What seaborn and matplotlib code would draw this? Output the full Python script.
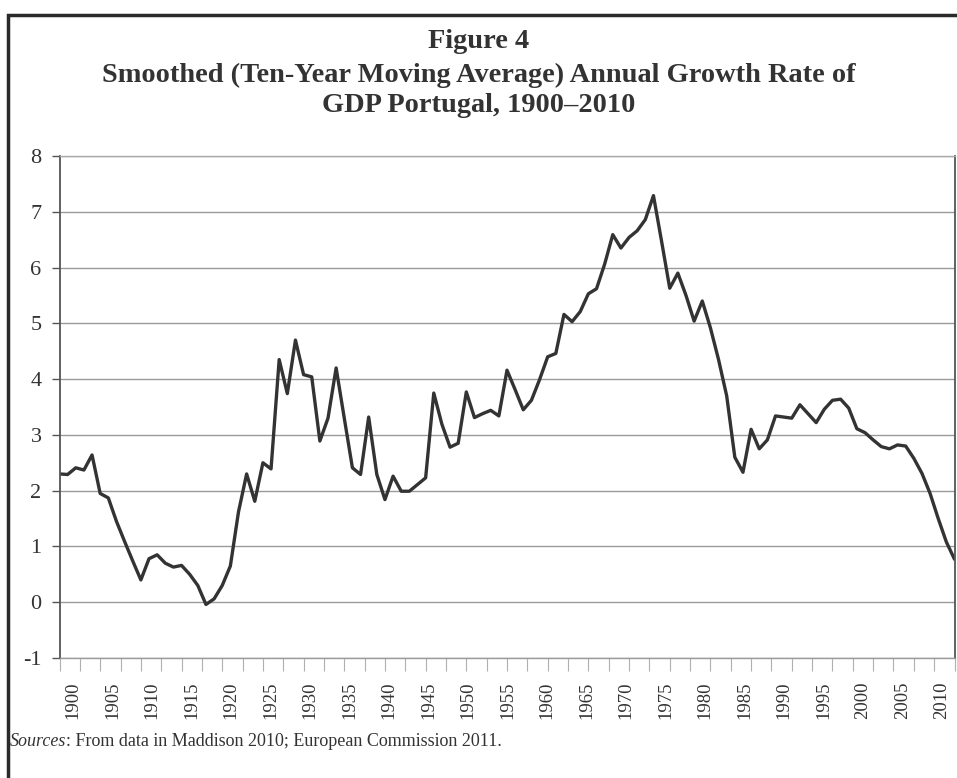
import matplotlib
matplotlib.use('Agg')
import matplotlib.pyplot as plt
import matplotlib.patches as mpatches
from matplotlib.ticker import MultipleLocator
from matplotlib.transforms import ScaledTranslation
import seaborn as sns
import pandas as pd

# Data
years = list(range(1900, 2011))
growth = [
    2.30, 2.29, 2.41, 2.37, 2.64, 1.95, 1.87, 1.45, 1.09, 0.74,   # 1900-1909
    0.40, 0.78, 0.85, 0.70, 0.63, 0.66, 0.50, 0.30, -0.04, 0.06,  # 1910-1919
    0.30, 0.65, 1.62, 2.30, 1.81, 2.50, 2.39, 4.35, 3.74, 4.70,   # 1920-1929
    4.08, 4.04, 2.89, 3.30, 4.20, 3.30, 2.41, 2.29, 3.32, 2.29,   # 1930-1939
    1.84, 2.26, 1.99, 1.99, 2.11, 2.23, 3.75, 3.19, 2.78, 2.85,   # 1940-1949
    3.77, 3.31, 3.38, 3.44, 3.34, 4.16, 3.81, 3.45, 3.62, 3.99,   # 1950-1959
    4.40, 4.46, 5.16, 5.03, 5.21, 5.53, 5.62, 6.06, 6.59, 6.35,   # 1960-1969
    6.54, 6.66, 6.86, 7.29, 6.47, 5.63, 5.90, 5.50, 5.04, 5.40,   # 1970-1979
    4.92, 4.35, 3.70, 2.60, 2.33, 3.10, 2.75, 2.91, 3.34, 3.32,   # 1980-1989
    3.30, 3.54, 3.38, 3.22, 3.46, 3.62, 3.64, 3.48, 3.11, 3.04,   # 1990-1999
    2.91, 2.79, 2.75, 2.82, 2.80, 2.58, 2.31, 1.95, 1.50, 1.08,   # 2000-2009
    0.77,                                                         # 2010
]
y_ticks = list(range(-1, 9))
x_label_years = list(range(1900, 2011, 5))

title_lines = ['Figure 4',
               'Smoothed (Ten-Year Moving Average) Annual Growth Rate of',
               'GDP Portugal, 1900\u20132010']
source_lead = 'Sources'
source_rest = ': From data in Maddison 2010; European Commission 2011.'

# Style
LINE_COLOR = '#333333'
GRID_COLOR = '#9a9a9a'
TEXT_COLOR = '#333333'

sns.set_style('white')
plt.rcParams['font.family'] = ['Liberation Serif', 'DejaVu Serif']
plt.rcParams['axes.unicode_minus'] = False

W, H = 957, 778
fig = plt.figure(figsize=(W / 100, H / 100), dpi=100)
fig.patch.set_facecolor('white')

ax = fig.add_axes([59.5 / W, 1 - 658 / H, 895 / W, 502 / H])
ax.set_facecolor('white')

df = pd.DataFrame({'year': years, 'growth': growth})
sns.lineplot(data=df, x='year', y='growth', ax=ax,
             color=LINE_COLOR, linewidth=2.4)

ax.set_xlim(1900, 2010)
ax.set_ylim(-1, 8)
ax.set_yticks(y_ticks)
ax.set_yticklabels([str(v) for v in y_ticks])
ax.set_xticks(x_label_years)
ax.set_xticklabels([str(y) for y in x_label_years], rotation=90)
ax.xaxis.set_minor_locator(MultipleLocator(2.5))
ax.set_xlabel('')
ax.set_ylabel('')

ax.yaxis.grid(True, color=GRID_COLOR, linewidth=1)
ax.set_axisbelow(True)

ax.tick_params(axis='y', which='major', direction='out', length=6,
               width=1, color='#555555', labelsize=16, pad=7,
               labelcolor=TEXT_COLOR, left=True)
ax.tick_params(axis='x', which='both', direction='out', length=9,
               width=0.8, color='#b0b0b0', bottom=True)
ax.tick_params(axis='x', which='major', labelsize=13.5, pad=8,
               labelcolor=TEXT_COLOR)

# Excel spreads the year labels slightly inside the axis ends
for tick, yr in zip(ax.xaxis.get_major_ticks(), x_label_years):
    dx = 13.5 - (yr - 1900) * 0.236
    lbl = tick.label1
    lbl.set_transform(lbl.get_transform() +
                      ScaledTranslation(dx / 100, 0, fig.dpi_scale_trans))

for side in ['left', 'right']:
    ax.spines[side].set_color('#555555')
    ax.spines[side].set_linewidth(1.3)
ax.spines['top'].set_color('#aaaaaa')
ax.spines['top'].set_linewidth(1)
ax.spines['bottom'].set_color(GRID_COLOR)
ax.spines['bottom'].set_linewidth(1)

# Titles
title_y = [41, 75, 106]
for txt, yp in zip(title_lines, title_y):
    fig.text(0.5, 1 - yp / H, txt, ha='center', va='center',
             fontsize=20.4, fontweight='bold', color=TEXT_COLOR)

# Source note: italic lead word followed by regular text
lead = fig.text(10 / W, 1 - 741 / H, source_lead, ha='left', va='center',
                fontsize=13, style='italic', color=TEXT_COLOR)
renderer = fig.canvas.get_renderer()
bb = lead.get_window_extent(renderer=renderer)
fig.text(bb.x1 / W, 1 - 741 / H, source_rest, ha='left', va='center',
         fontsize=13, color=TEXT_COLOR)

# Outer frame (left and top edges visible)
frame_top = 1 - 15 / H
frame = mpatches.Rectangle((8 / W, -0.2), 1.5, frame_top + 0.2,
                           transform=fig.transFigure, fill=False,
                           edgecolor='#2a2a2a', linewidth=2.5)
fig.add_artist(frame)

fig.savefig('out.png', dpi=100, facecolor='white')
plt.close(fig)
